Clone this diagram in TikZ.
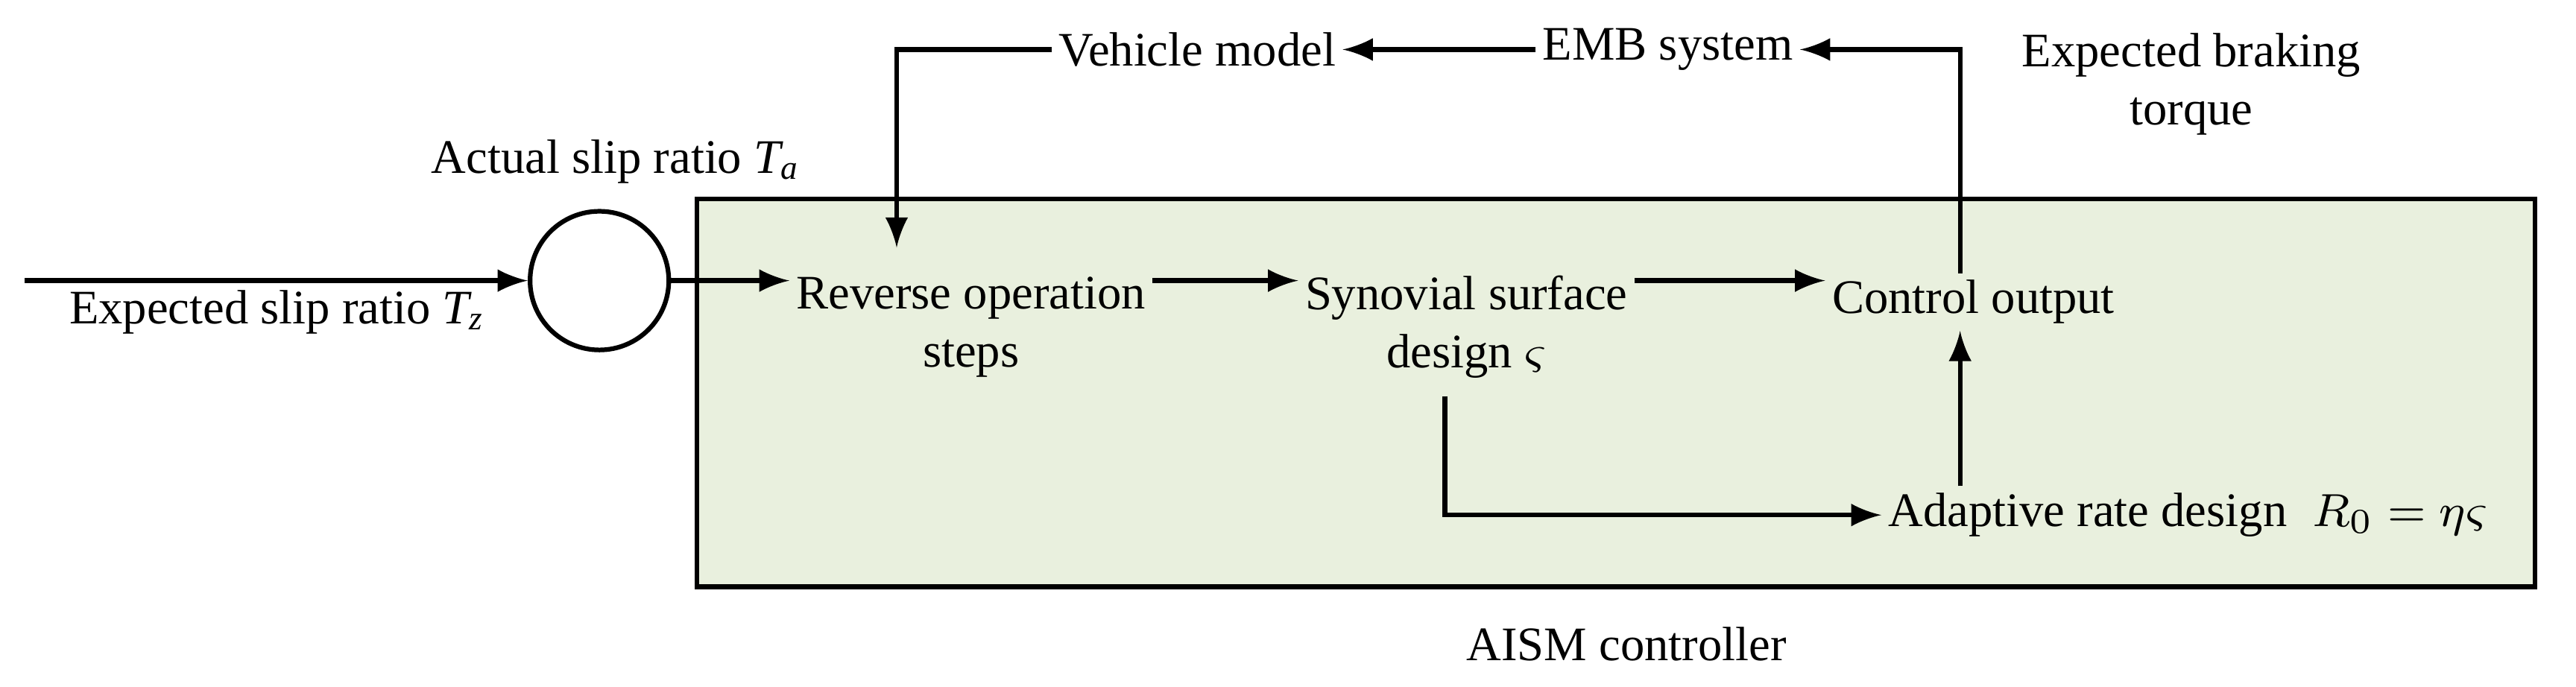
\documentclass[tikz,border=0pt]{standalone}
\usepackage{fontspec}
\setmainfont{Liberation Serif}
\usetikzlibrary{arrows,calc,positioning}
\definecolor{boxgreen}{RGB}{233,240,222}
\begin{document}
\begin{tikzpicture}[line/.style={>=latex, thick}, lbl/.style={font=\fontsize{8.3}{10}\selectfont, align=center, inner sep=1pt}]
\useasboundingbox (0,0) rectangle (15.6,4.16);
\node[draw, thick, fill=boxgreen, minimum width=11.13cm, minimum height=2.35cm, inner sep=0] (box) at (9.785,1.78) {};
\node[draw, thick, circle, minimum size=0.84cm, inner sep=0] (sum) at (3.63,2.46) {};
\coordinate (in) at (0.15,2.46);

\node[lbl] (vehicle) at (7.25,3.86) {Vehicle model};
\node[lbl] (emb) at (10.1,3.86) {EMB system};
\node[lbl] (torque) at (13.27,3.65) {Expected braking\\torque};
\node[lbl] (actual) at (3.73,3.18) {Actual slip ratio $\mathit{T_a}$};
\node[lbl] (expected) at (1.68,2.27) {Expected slip ratio $\mathit{T_z}$};
\node[lbl] (reverse) at (5.88,2.18) {Reverse operation\\steps};
\node[lbl] (synovial) at (8.88,2.18) {Synovial surface\\design $\varsigma$};
\node[lbl] (control) at (11.95,2.33) {Control output};
\node[lbl] (adaptive) at (13.25,1.04) {Adaptive rate design \;$R_0=\eta\varsigma$};
\node[lbl] (aism) at (9.85,0.26) {AISM controller};

% signal flow
\draw[->, line] (in) -- (sum);
\draw[->, line] (sum.east) -- (reverse.west |- sum.east);
\draw[->, line] (reverse.east |- sum.east) -- (synovial.west |- sum.east);
\draw[->, line] (synovial.east |- sum.east) -- (control.west |- sum.east);
\draw[->, line] (control.north -| 11.87,0) |- (emb.east);
\draw[->, line] (emb.west) -- (vehicle.east);
\draw[->, line] (vehicle.west) -| (5.43,2.66);
\draw[->, line] (8.75,1.76) |- (adaptive.west);
\draw[->, line] (adaptive.north -| 11.87,0) -- (control.south -| 11.87,0);
\end{tikzpicture}
\end{document}
